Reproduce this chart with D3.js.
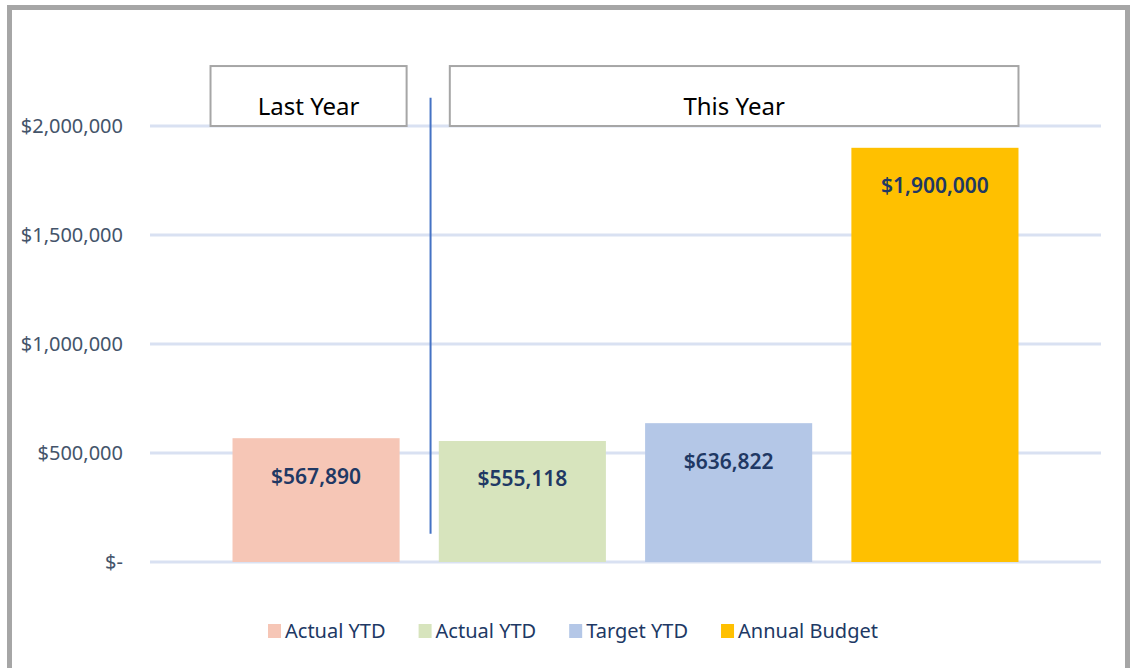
<!DOCTYPE html>
<html>
<head>
<meta charset="utf-8">
<script src="https://cdn.jsdelivr.net/npm/d3@7"></script>
<style>
  html, body { margin: 0; padding: 0; background: #fff; }
  svg { display: block; font-family: "Noto Sans", "Open Sans", sans-serif; }
</style>
</head>
<body>
<div id="chart"></div>
<script>
// Budget vs actual: last year's YTD, this year's YTD / target / annual budget.

const categories = ["ly-actual", "ty-actual", "ty-target", "ty-budget"];
const legendLabels = ["Actual YTD", "Actual YTD", "Target YTD", "Annual Budget"];
const values = [567890, 555118, 636822, 1900000];
const colors = ["#f6c6b6", "#d7e4bd", "#b4c7e7", "#ffc000"];
const yTicks = [0, 500000, 1000000, 1500000, 2000000];
const tickLabels = ["$-", "$500,000", "$1,000,000", "$1,500,000", "$2,000,000"];
const headerLabels = ["Last Year", "This Year"];
const headerFrom = [0, 1];   // first category index covered
const headerTo = [0, 3];     // last category index covered
const headerRange = [2000000, 2275000];
const dividerRange = [130000, 2130000];

const W = 1131, H = 668;
const svg = d3.select("#chart").append("svg").attr("width", W).attr("height", H);

// outer frame
svg.append("rect")
  .attr("x", 9.5).attr("y", 7.5).attr("width", 1118).attr("height", 680)
  .attr("fill", "none").attr("stroke", "#a6a6a6").attr("stroke-width", 5);

const x = d3.scaleBand().domain(categories).range([150, 1101])
  .paddingInner(0.19).paddingOuter(0.4);
const y = d3.scaleLinear().domain([0, 2000000]).range([562, 126]);

// gridlines
svg.append("g").selectAll("line").data(yTicks).join("line")
  .attr("x1", 150).attr("x2", 1101)
  .attr("y1", d => y(d)).attr("y2", d => y(d))
  .attr("stroke", "#d9e1f2").attr("stroke-width", 3);

// y axis labels
svg.append("g").selectAll("text").data(yTicks).join("text")
  .attr("x", 123).attr("y", d => y(d)).attr("dy", "0.35em")
  .attr("text-anchor", "end").attr("font-size", 20).attr("fill", "#44546a")
  .text((d, i) => tickLabels[i]);

// bars
svg.append("g").selectAll("rect").data(categories).join("rect")
  .attr("x", d => x(d)).attr("width", x.bandwidth())
  .attr("y", (d, i) => y(values[i]))
  .attr("height", (d, i) => y(0) - y(values[i]))
  .attr("fill", (d, i) => colors[i]);

// value labels inside bars
const fmt = d3.format("$,");
svg.append("g").selectAll("text").data(categories).join("text")
  .attr("x", d => x(d) + x.bandwidth() / 2)
  .attr("y", (d, i) => y(values[i]) + 38)
  .attr("dy", "0.35em")
  .attr("text-anchor", "middle").attr("font-size", 21).attr("font-weight", 600)
  .attr("fill", "#203864")
  .text((d, i) => fmt(values[i]));

// divider between last year and this year
const divX = x(categories[1]) - x.step() * 0.04;
svg.append("line")
  .attr("x1", divX).attr("x2", divX)
  .attr("y1", y(dividerRange[1])).attr("y2", y(dividerRange[0]))
  .attr("stroke", "#4472c4").attr("stroke-width", 2);

// period header boxes
const hdr = svg.append("g").selectAll("g").data(headerLabels).join("g");
const hx0 = i => i === 0 ? x(categories[headerFrom[i]]) - 22 : x(categories[headerFrom[i]]) + 11;
const hx1 = i => i === 0 ? x(categories[headerTo[i]]) + x.bandwidth() + 7 : x(categories[headerTo[i]]) + x.bandwidth();
hdr.append("rect")
  .attr("x", (d, i) => hx0(i)).attr("width", (d, i) => hx1(i) - hx0(i))
  .attr("y", y(headerRange[1])).attr("height", y(headerRange[0]) - y(headerRange[1]))
  .attr("fill", "#fff").attr("stroke", "#a6a6a6").attr("stroke-width", 2);
hdr.append("text")
  .attr("x", (d, i) => (hx0(i) + hx1(i)) / 2)
  .attr("y", y(headerRange[0]) - 11)
  .attr("text-anchor", "middle")
  .attr("font-size", 24).attr("fill", "#000")
  .text(d => d);

// legend
const legend = svg.append("g").attr("transform", "translate(0,631)");
const items = legend.selectAll("g").data(legendLabels).join("g");
items.append("rect").attr("x", 0).attr("y", -7).attr("width", 13).attr("height", 14)
  .attr("fill", (d, i) => colors[i]);
items.append("text").attr("x", 17).attr("dy", "0.35em")
  .attr("font-size", 20).attr("fill", "#203864").text(d => d);
let off = 268;
items.attr("transform", function () {
  const w = this.querySelector("text").getComputedTextLength() + 17;
  const t = `translate(${off},0)`;
  off += w + 33;
  return t;
});
</script>
</body>
</html>
